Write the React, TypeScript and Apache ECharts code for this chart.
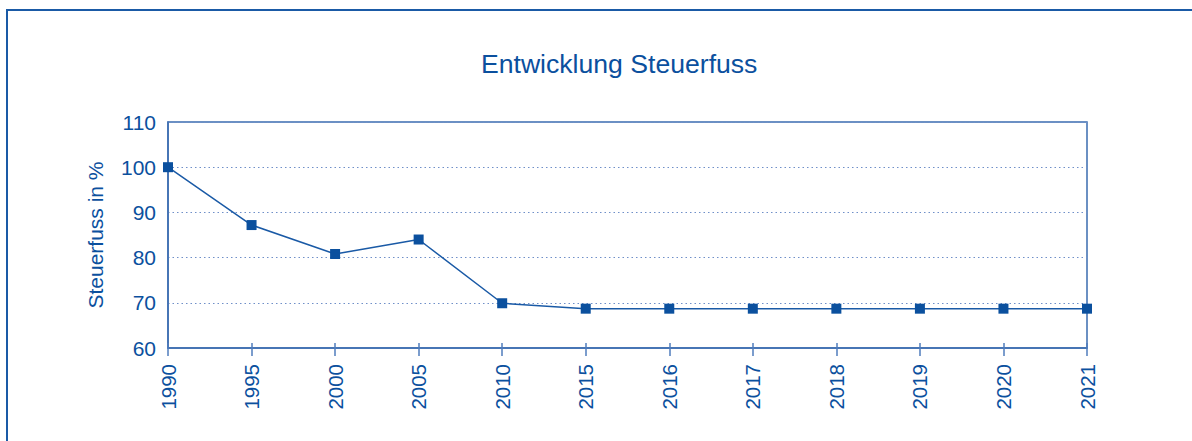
import React, { useEffect, useRef } from "react";
import * as echarts from "echarts";

const years = ["1990", "1995", "2000", "2005", "2010", "2015", "2016", "2017", "2018", "2019", "2020", "2021"];
const steuerfuss = [100, 87.2, 80.8, 84, 69.9, 68.7, 68.7, 68.7, 68.7, 68.7, 68.7, 68.7];
const yTicks = { min: 60, max: 110, interval: 10 };

const BLUE = "#0b509e";
const FONT = "'Liberation Sans', Arial, Helvetica, sans-serif";

export default function App() {
  const ref = useRef<HTMLDivElement>(null);
  useEffect(() => {
    if (!ref.current) return;
    const chart = echarts.init(ref.current, null, { renderer: "svg" });
    chart.setOption({
      animation: false,
      backgroundColor: "#ffffff",
      textStyle: { fontFamily: FONT },
      title: {
        text: "Entwicklung Steuerfuss",
        left: 476,
        top: 45,
        textStyle: { color: BLUE, fontSize: 26.6, fontWeight: "normal", fontFamily: FONT },
      },
      graphic: [
        {
          type: "rect",
          shape: { x: 7, y: 10, width: 1250, height: 500 },
          style: { fill: "none", stroke: "#1a5aa6", lineWidth: 2 },
          silent: true,
        },
      ],
      grid: {
        left: 168,
        right: 105,
        top: 122,
        bottom: 93,
        show: true,
        borderColor: "#3b6cb0",
        borderWidth: 1.5,
        backgroundColor: "transparent",
      },
      xAxis: [
        {
          type: "category",
          data: years,
          boundaryGap: false,
          position: "bottom",
          axisLine: { show: true, lineStyle: { color: "#3b6cb0", width: 1.5 } },
          axisTick: { show: true, length: 8, lineStyle: { color: "#4f7cbc", width: 1.5 } },
          axisLabel: {
            rotate: 90,
            margin: 16,
            color: BLUE,
            fontSize: 20.5,
            fontFamily: FONT,
            interval: 0,
          },
          splitLine: { show: false },
        },
        {
          type: "category",
          data: years,
          boundaryGap: false,
          position: "bottom",
          axisLine: { show: false },
          axisTick: { show: true, inside: true, length: 5, lineStyle: { color: "#4f7cbc", width: 1.5 } },
          axisLabel: { show: false },
          splitLine: { show: false },
        },
      ],
      yAxis: {
        type: "value",
        min: yTicks.min,
        max: yTicks.max,
        interval: yTicks.interval,
        name: "Steuerfuss in %",
        nameLocation: "middle",
        nameGap: 62,
        nameTextStyle: { color: BLUE, fontSize: 21, fontFamily: FONT },
        axisLine: { show: true, lineStyle: { color: "#3b6cb0", width: 1.5 } },
        axisTick: { show: false },
        axisLabel: { color: BLUE, fontSize: 21, margin: 12, fontFamily: FONT },
        splitLine: { show: true, lineStyle: { color: "#6f8fc8", type: [1.5, 3], width: 1 } },
      },
      series: [
        {
          type: "line",
          data: steuerfuss,
          xAxisIndex: 0,
          symbol: "rect",
          symbolSize: 10,
          itemStyle: { color: "#0b509e" },
          lineStyle: { color: "#1a5aa6", width: 1.5 },
          z: 5,
        },
      ],
    });
    return () => chart.dispose();
  }, []);
  return (
    <div
      ref={ref}
      style={{ position: "fixed", left: 0, top: 0, width: 1192, height: 441, background: "#fff" }}
    />
  );
}
